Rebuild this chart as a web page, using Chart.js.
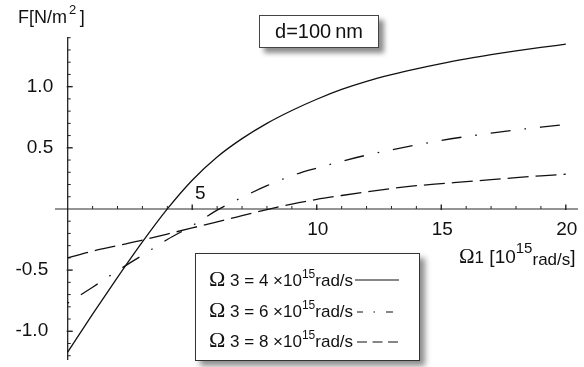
<!DOCTYPE html>
<html><head><meta charset="utf-8">
<script src="https://cdn.jsdelivr.net/npm/chart.js@4"></script>
<style>
html,body{margin:0;padding:0;background:#fff;}
#wrap{position:relative;width:584px;height:367px;overflow:hidden;font-family:"Liberation Sans",Arial,Helvetica,sans-serif;color:#111;}
#c{position:absolute;left:0;top:0;}
.abs{position:absolute;white-space:nowrap;}
.om{font-family:"Liberation Serif","Times New Roman",serif;}
#title{left:259px;top:15px;width:118px;height:31px;border:1px solid #444;background:#fff;box-shadow:5px 5px 5px rgba(0,0,0,0.45);font-size:20px;line-height:31px;text-align:center;}
#legend{left:195px;top:253px;width:223px;height:106px;border:1px solid #333;background:#fff;box-shadow:5px 5px 6px rgba(0,0,0,0.45);}
.row{position:absolute;left:13px;height:22px;line-height:22px;font-size:17px;white-space:nowrap;}
.row .om{font-size:22px;}
.sup{position:relative;top:-8px;font-size:12px;}
#ytitle{left:18px;top:6px;font-size:18px;line-height:22px;}
#xtitle{left:459px;top:245px;font-size:19px;line-height:22px;}
</style></head>
<body>
<div id="wrap">
<canvas id="c" width="584" height="367"></canvas>
<div id="title" class="abs">d=100&#8201;nm</div>
<div id="ytitle" class="abs">F[N/m<span class="sup" style="font-size:13px;top:-9px;margin-left:2px">2</span>&#8201;]</div>
<div id="xtitle" class="abs"><span class="om" style="font-size:21px">&Omega;</span><span style="font-size:17px">1</span> [10<span class="sup" style="font-size:15px;top:-10px">15</span><span style="position:relative;top:2px;font-size:17px">rad/s</span>]</div>
<div id="legend" class="abs">
  <div class="row" style="top:14px"><span class="om">&Omega;</span> 3 = 4 &times;10<span class="sup">15</span>rad/s</div>
  <div class="row" style="top:45px"><span class="om">&Omega;</span> 3 = 6 &times;10<span class="sup">15</span>rad/s</div>
  <div class="row" style="top:75px"><span class="om">&Omega;</span> 3 = 8 &times;10<span class="sup">15</span>rad/s</div>
  <svg class="abs" style="left:0;top:0" width="223" height="106">
    <line x1="159" y1="26" x2="203" y2="26" stroke="#111" stroke-width="1.2"/>
    <line x1="161" y1="58" x2="197" y2="58" stroke="#111" stroke-width="1.2" stroke-dasharray="6 10.5 1.5 11 7"/>
    <line x1="161" y1="88" x2="203" y2="88" stroke="#111" stroke-width="1.2" stroke-dasharray="10 5.5"/>
  </svg>
</div>
</div>
<script>
// Ω1 values [10^15 rad/s]
const xValues = [0,1,2,3,4,5,6,7,8,9,10,11,12,13,14,15,16,17,18,19,20];
// F [N/m^2] for Ω3 = 4, 6, 8 ×10^15 rad/s
const F_omega3_4 = [-1.17,-0.86,-0.56,-0.27,0.0,0.235,0.425,0.575,0.70,0.805,0.897,0.977,1.043,1.098,1.146,1.189,1.227,1.262,1.293,1.321,1.347];
const F_omega3_6 = [-0.77,-0.64,-0.505,-0.378,-0.25,-0.137,-0.01,0.095,0.19,0.272,0.334,0.39,0.44,0.483,0.523,0.56,0.592,0.62,0.646,0.669,0.69];
const F_omega3_8 = [-0.40,-0.345,-0.30,-0.255,-0.205,-0.155,-0.105,-0.055,-0.005,0.04,0.078,0.11,0.14,0.167,0.19,0.207,0.223,0.24,0.256,0.271,0.284];
// tick labels
const xMajorTicks = [5,10,15,20];
const xTickLabels = ['5','10','15','20'];
const xMinorTicks = [1,2,3,4,6,7,8,9,11,12,13,14,16,17,18,19];
const yMajorTicks = [1.0,0.5,-0.5,-1.0];
const yTickLabels = ['1.0','0.5','-0.5','-1.0'];
const yMinorTicks = [1.4,1.3,1.2,1.1,0.9,0.8,0.7,0.6,0.4,0.3,0.2,0.1,-0.1,-0.2,-0.3,-0.4,-0.6,-0.7,-0.8,-0.9,-1.1,-1.2];

const pts = ys => xValues.map((x,i)=>({x:x,y:ys[i]}));

const axesPlugin = {
  id:'mAxes',
  beforeDatasetsDraw(chart){
    const ctx = chart.ctx, xs = chart.scales.x, ys = chart.scales.y, a = chart.chartArea;
    const x0 = xs.getPixelForValue(0), y0 = ys.getPixelForValue(0);
    ctx.save();
    // x axis
    ctx.strokeStyle = '#707070'; ctx.lineWidth = 1.6;
    ctx.beginPath(); ctx.moveTo(a.left, y0); ctx.lineTo(a.right, y0); ctx.stroke();
    // y axis
    ctx.strokeStyle = '#111'; ctx.lineWidth = 1.2;
    ctx.beginPath(); ctx.moveTo(x0, a.top); ctx.lineTo(x0, a.bottom); ctx.stroke();
    // x ticks (inward = up)
    ctx.strokeStyle = '#222'; ctx.lineWidth = 1;
    xMinorTicks.forEach(v=>{const p=xs.getPixelForValue(v);ctx.beginPath();ctx.moveTo(p,y0);ctx.lineTo(p,y0-3);ctx.stroke();});
    ctx.lineWidth = 1.4;
    xMajorTicks.forEach(v=>{const p=xs.getPixelForValue(v);ctx.beginPath();ctx.moveTo(p,y0+1);ctx.lineTo(p,y0-4.5);ctx.stroke();});
    // y ticks (inward = right)
    ctx.lineWidth = 1;
    yMinorTicks.forEach(v=>{const p=ys.getPixelForValue(v);ctx.beginPath();ctx.moveTo(x0,p);ctx.lineTo(x0+3,p);ctx.stroke();});
    ctx.lineWidth = 1.4;
    yMajorTicks.forEach(v=>{const p=ys.getPixelForValue(v);ctx.beginPath();ctx.moveTo(x0-1,p);ctx.lineTo(x0+5,p);ctx.stroke();});
    // labels
    ctx.fillStyle = '#111';
    ctx.font = '19px "Liberation Sans", Arial, sans-serif';
    ctx.textBaseline = 'middle'; ctx.textAlign = 'center';
    xMajorTicks.forEach((v,i)=>{
      const p = xs.getPixelForValue(v);
      if (v === 5) ctx.fillText(xTickLabels[i], p+8, y0-15);
      else ctx.fillText(xTickLabels[i], p+1, y0+21);
    });
    ctx.textAlign = 'right';
    yMajorTicks.forEach((v,i)=>{
      const p = ys.getPixelForValue(v);
      ctx.fillText(yTickLabels[i], v<0 ? x0-19.5 : x0-14.5, p);
    });
    ctx.restore();
  }
};

new Chart(document.getElementById('c'), {
  type:'line',
  data:{datasets:[
    {label:'Ω3 = 4×10^15 rad/s', data:pts(F_omega3_4), borderColor:'#111', borderWidth:1.3},
    {label:'Ω3 = 6×10^15 rad/s', data:pts(F_omega3_6), borderColor:'#111', borderWidth:1.3, borderDash:[20,14,1.6,14], borderDashOffset:34},
    {label:'Ω3 = 8×10^15 rad/s', data:pts(F_omega3_8), borderColor:'#111', borderWidth:1.3, borderDash:[21,7]}
  ]},
  options:{
    responsive:false, animation:false, devicePixelRatio:1,
    layout:{padding:{left:55,right:6,top:37,bottom:7}},
    elements:{point:{radius:0},line:{cubicInterpolationMode:'monotone',fill:false}},
    plugins:{legend:{display:false},tooltip:{enabled:false}},
    scales:{
      x:{type:'linear',min:-0.51,max:20.49,display:false},
      y:{type:'linear',min:-1.235,max:1.406,display:false}
    }
  },
  plugins:[axesPlugin]
});
</script>
</body></html>
